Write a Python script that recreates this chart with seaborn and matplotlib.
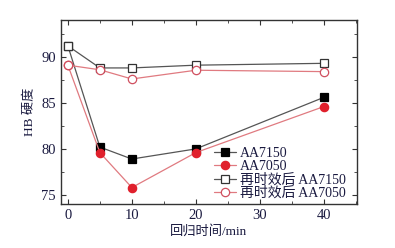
import matplotlib
matplotlib.use("Agg")
import matplotlib.pyplot as plt
import seaborn as sns
import pandas as pd
from matplotlib.ticker import MultipleLocator

time_min = [0, 5, 10, 20, 40]
aa7150 = [91.2, 80.2, 78.9, 80.0, 85.6]
aa7050 = [89.1, 79.6, 75.8, 79.6, 84.6]
re_aa7150 = [91.2, 88.8, 88.8, 89.1, 89.3]
re_aa7050 = [89.1, 88.6, 87.6, 88.55, 88.4]
labels = ["AA7150", "AA7050", "再时效后 AA7150", "再时效后 AA7050"]

sns.set_theme(style="ticks")
plt.rcParams['font.family'] = ['Liberation Serif', 'Noto Sans CJK SC']
plt.rcParams['mathtext.fontset'] = 'stix'

fig = plt.figure(figsize=(3.95, 2.48), dpi=100)
ax = fig.add_axes([0.154, 0.177, 0.750, 0.742])

series = [aa7150, aa7050, re_aa7150, re_aa7050]
styles = [
    dict(color="#555555", marker="s", mfc="black", mec="black", ms=5.5),
    dict(color="#e07a80", marker="o", mfc="#e0202c", mec="#e0202c", ms=6),
    dict(color="#555555", marker="s", mfc="white", mec="#333333", ms=5.5),
    dict(color="#e07a80", marker="o", mfc="white", mec="#d05060", ms=6),
]
for vals, lab, st in zip(series, labels, styles):
    df = pd.DataFrame({"t": time_min, "v": vals})
    sns.lineplot(data=df, x="t", y="v", ax=ax, label=lab, color=st["color"],
                 marker=st["marker"], markerfacecolor=st["mfc"],
                 markeredgecolor=st["mec"], markersize=st["ms"],
                 markeredgewidth=0.9, linewidth=0.9)

ax.set_xlim(-1.1, 45.2)
ax.set_ylim(74, 94)
ax.xaxis.set_major_locator(MultipleLocator(10))
ax.xaxis.set_minor_locator(MultipleLocator(5))
ax.yaxis.set_major_locator(MultipleLocator(5))
ax.yaxis.set_minor_locator(MultipleLocator(2.5))
ax.tick_params(which="both", direction="in", top=True, right=True,
               colors="#333333", labelcolor="#1a1a40", labelsize=10.5)
ax.tick_params(which="major", length=3.5, width=0.8)
ax.tick_params(which="minor", length=2, width=0.6)
for s in ax.spines.values():
    s.set_color("#333333")
    s.set_linewidth(1.0)
ax.set_xlabel("回归时间/min", fontsize=9.5, color="#1a1a40", labelpad=2)
ax.set_ylabel("HB 硬度", fontsize=9.5, color="#1a1a40", labelpad=4)

leg = ax.legend(loc="lower right", frameon=False, fontsize=10,
                handlelength=1.6, handletextpad=0.3, labelspacing=0.0,
                borderaxespad=0.3, bbox_to_anchor=(0.995, -0.03))
for t in leg.get_texts():
    t.set_color("#1a1a40")

fig.savefig("out.png", dpi=100)
